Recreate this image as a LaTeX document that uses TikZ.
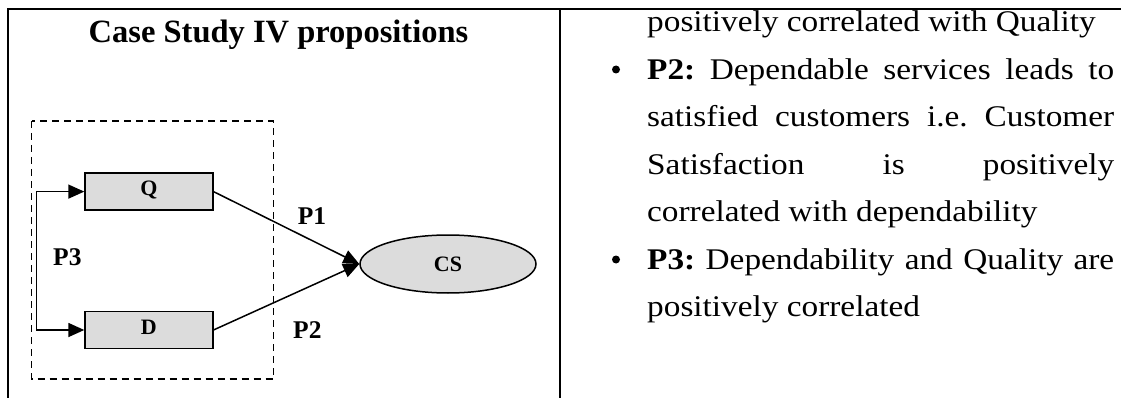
\documentclass[tikz,border=0pt]{standalone}
\usepackage{fontspec}
\setmainfont{Liberation Serif}
\newfontfamily\listfont[FakeStretch=1.11]{Liberation Serif}
\usetikzlibrary{arrows.meta,shapes.geometric}
\definecolor{boxgray}{RGB}{220,220,220}
\frenchspacing
\begin{document}
\begin{tikzpicture}[x=1pt,y=-1pt,
  rule/.style={line width=2pt},
  frame/.style={draw, line width=1.5pt, dash pattern=on 7pt off 5pt},
  var/.style={draw, line width=1.5pt, fill=boxgray, minimum width=127.7pt,
    minimum height=36.7pt, inner sep=0pt, text height=14.3pt, text depth=6pt,
    font=\bfseries\fontsize{22}{25}\selectfont},
  outcome/.style={draw, line width=1.5pt, fill=boxgray, ellipse, minimum width=176pt,
    minimum height=58pt, inner sep=0pt, text height=15pt, text depth=0pt,
    font=\bfseries\fontsize{22}{25}\selectfont},
  conn/.style={line width=1.5pt, -{Triangle[length=16pt,width=14pt]}},
  both/.style={line width=1.5pt, {Triangle[length=16pt,width=14pt]}-{Triangle[length=16pt,width=14pt]}},
  plabel/.style={anchor=base west, inner sep=0pt, font=\bfseries\fontsize{25.5}{30}\selectfont},
  body/.style={anchor=base west, inner sep=0pt, font=\listfont\fontsize{30}{36}\selectfont},
  dot/.style={circle, fill=black, inner sep=0pt, minimum size=8pt}
]
\useasboundingbox (0,0) rectangle (1123,398);

% table rules
\coordinate (tl) at (7.5,8.7);
\coordinate (tr) at (1121,8.7);
\coordinate (bl) at (7.5,398);
\coordinate (mt) at (560,8.7);
\coordinate (mb) at (560,398);
\draw[rule] (bl) -- (tl) -- (tr);
\draw[rule] (mt) -- (mb);

% left cell: title
\node[anchor=base, inner sep=0pt, font=\bfseries\fontsize{32.5}{38}\selectfont]
  (title) at (278.5,42.5) {Case Study IV propositions};

% grouping frame around the two drivers
\draw[frame] (31.7,121) rectangle (273.3,379);

% variables
\node[var] (Q) at (148.9,191.6) {Q};
\node[var] (D) at (148.9,330) {D};
\node[outcome] (CS) at (448,264) {CS};

% relations
\draw[both] (Q.west) -- ++(-48,0) |- (D.west);
\draw[conn] (Q.east) -- (CS.west);
\draw[conn] (D.east) -- (CS.west);

\node[plabel] (P1) at (297.7,224) {P1};
\node[plabel] (P2) at (293,338) {P2};
\node[plabel] (P3) at (53,265) {P3};

% right cell: proposition list
\node[body] (l1) at (647,32) {positively correlated with Quality};
\node[dot] (b2) at (616,69.5) {};
\node[body] (l2) at (647,79.2) {\makebox[467pt][s]{\textbf{P2:} Dependable services leads to}};
\node[body] (l3) at (647,126.7) {\makebox[467pt][s]{satisfied customers i.e. Customer}};
\node[body] (l4) at (647,174.2) {\makebox[467pt][s]{Satisfaction is positively}};
\node[body] (l5) at (647,221.7) {correlated with dependability};
\node[dot] (b6) at (616,259.5) {};
\node[body] (l6) at (647,269.2) {\makebox[467pt][s]{\textbf{P3:} Dependability and Quality are}};
\node[body] (l7) at (647,316.7) {positively correlated};
\end{tikzpicture}
\end{document}
